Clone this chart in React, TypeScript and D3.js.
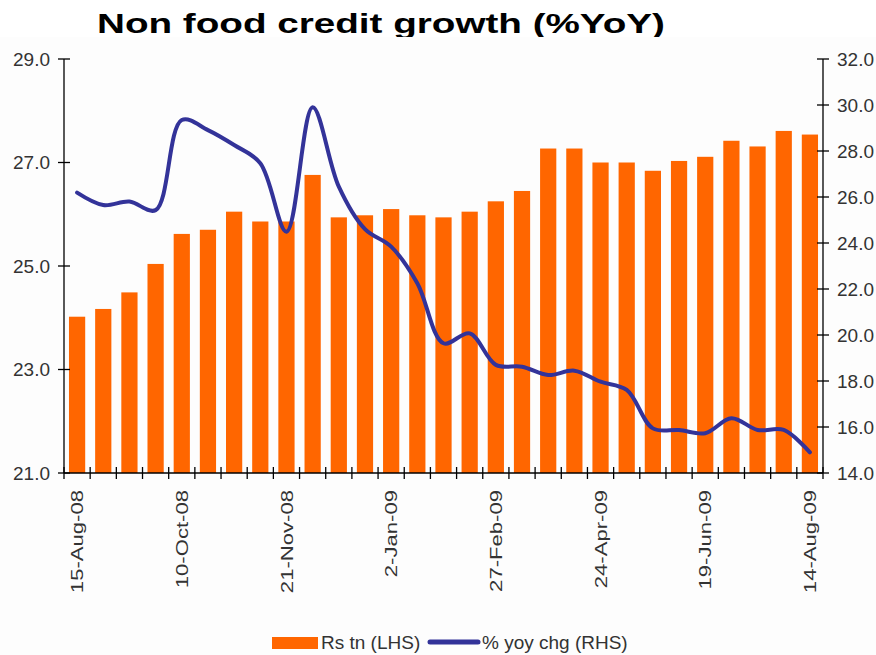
import React from "react";
import * as d3 from "d3";

const categories = [
  "15-Aug-08", "29-Aug-08", "12-Sep-08", "26-Sep-08", "10-Oct-08", "24-Oct-08",
  "7-Nov-08", "14-Nov-08", "21-Nov-08", "5-Dec-08", "19-Dec-08", "26-Dec-08",
  "2-Jan-09", "16-Jan-09", "30-Jan-09", "13-Feb-09", "27-Feb-09", "13-Mar-09",
  "27-Mar-09", "10-Apr-09", "24-Apr-09", "8-May-09", "22-May-09", "5-Jun-09",
  "19-Jun-09", "3-Jul-09", "17-Jul-09", "31-Jul-09", "14-Aug-09",
];

const creditRsTn = [
  24.02, 24.17, 24.49, 25.04, 25.62, 25.7, 26.05, 25.86, 25.86, 26.76,
  25.94, 25.98, 26.1, 25.98, 25.94, 26.05, 26.25, 26.45, 27.27, 27.27,
  27.0, 27.0, 26.84, 27.03, 27.11, 27.42, 27.31, 27.61, 27.54,
];

const yoyChg = [
  26.19, 25.65, 25.8, 25.43, 29.35, 28.91, 28.26, 27.47, 24.49, 29.9,
  26.45, 24.6, 23.84, 22.25, 19.64, 20.07, 18.7, 18.62, 18.26, 18.45,
  17.97, 17.61, 15.94, 15.87, 15.73, 16.38, 15.87, 15.87, 14.9,
];

const leftTicks = [21, 23, 25, 27, 29];
const rightTicks = [14, 16, 18, 20, 22, 24, 26, 28, 30, 32];
const labelEvery = 4;

const title = "Non food credit growth (%YoY)";
const barLabel = "Rs tn (LHS)";
const lineLabel = "% yoy chg (RHS)";

const W = 876;
const H = 655;
const left = 64;
const right = 823;
const top = 59;
const bottom = 473;

const ORANGE = "#FF6600";
const BLUE = "#333399";
const FONT = "'Liberation Sans', Arial, sans-serif";
const TXT = "#333";

export default function App() {
  const x = d3
    .scaleBand<number>()
    .domain(d3.range(categories.length))
    .range([left, right])
    .paddingInner(0.38)
    .paddingOuter(0.19);
  const step = (right - left) / categories.length;
  const yL = d3.scaleLinear().domain([21, 29]).range([bottom, top]);
  const yR = d3.scaleLinear().domain([14, 32]).range([bottom, top]);

  const cx = (i: number) => left + step * (i + 0.5);

  const line = d3
    .line<number>()
    .x((_, i) => cx(i))
    .y((d) => yR(d))
    .curve(d3.curveCatmullRom.alpha(0.5));

  return (
    <div style={{ position: "absolute", left: 0, top: 0 }}>
      <svg width={W} height={H} style={{ display: "block", background: "#fff" }}>
        <text
          x={97}
          y={33}
          fontFamily={FONT}
          fontWeight="bold"
          fontSize={28}
          textLength={568}
          lengthAdjust="spacingAndGlyphs"
          fill="#000"
        >
          {title}
        </text>
        <rect x={0} y={37} width={W} height={H - 37} fill="#fdfdfd" />

        {/* bars */}
        {creditRsTn.map((v, i) => (
          <rect
            key={i}
            x={x(i)}
            y={yL(v)}
            width={x.bandwidth()}
            height={bottom - yL(v)}
            fill={ORANGE}
          />
        ))}

        {/* line */}
        <path
          d={line(yoyChg) || ""}
          fill="none"
          stroke={BLUE}
          strokeWidth={4}
          strokeLinejoin="round"
          strokeLinecap="round"
        />

        {/* axes */}
        <g stroke="#000" strokeWidth={1.3}>
          <line x1={left} x2={left} y1={top} y2={bottom} />
          <line x1={right} x2={right} y1={top} y2={bottom} />
          <line x1={left} x2={right} y1={bottom} y2={bottom} />
          {leftTicks.map((t) => (
            <line key={"lt" + t} x1={left - 6} x2={left + 6} y1={yL(t)} y2={yL(t)} />
          ))}
          {rightTicks.map((t) => (
            <line key={"rt" + t} x1={right - 6} x2={right + 6} y1={yR(t)} y2={yR(t)} />
          ))}
          {d3.range(categories.length + 1).map((k) => (
            <line
              key={"xt" + k}
              x1={left + step * k}
              x2={left + step * k}
              y1={bottom - 6}
              y2={bottom + 6}
            />
          ))}
        </g>

        {leftTicks.map((t) => (
          <text
            key={"ll" + t}
            x={50}
            y={yL(t)}
            dy="0.36em"
            textAnchor="end"
            fontFamily={FONT}
            fontSize={19}
            fill={TXT}
          >
            {t.toFixed(1)}
          </text>
        ))}
        {rightTicks.map((t) => (
          <text
            key={"rl" + t}
            x={837}
            y={yR(t)}
            dy="0.36em"
            textAnchor="start"
            fontFamily={FONT}
            fontSize={19}
            fill={TXT}
          >
            {t.toFixed(1)}
          </text>
        ))}

        {categories.map((c, i) =>
          i % labelEvery === 0 ? (
            <text
              key={"xl" + i}
              transform={`translate(${cx(i)},${490}) rotate(-90) scale(1.3,1)`}
              dy="0.36em"
              textAnchor="end"
              fontFamily={FONT}
              fontSize={17}
              fill={TXT}
            >
              {c}
            </text>
          ) : null
        )}

        {/* legend */}
        <rect x={272} y={637} width={46} height={12} fill={ORANGE} />
        <text x={321} y={649} fontFamily={FONT} fontSize={19} fill={TXT}>
          {barLabel}
        </text>
        <line
          x1={430}
          x2={478}
          y1={642}
          y2={642}
          stroke={BLUE}
          strokeWidth={5}
          strokeLinecap="round"
        />
        <text x={482} y={649} fontFamily={FONT} fontSize={19} fill={TXT}>
          {lineLabel}
        </text>
      </svg>
    </div>
  );
}
